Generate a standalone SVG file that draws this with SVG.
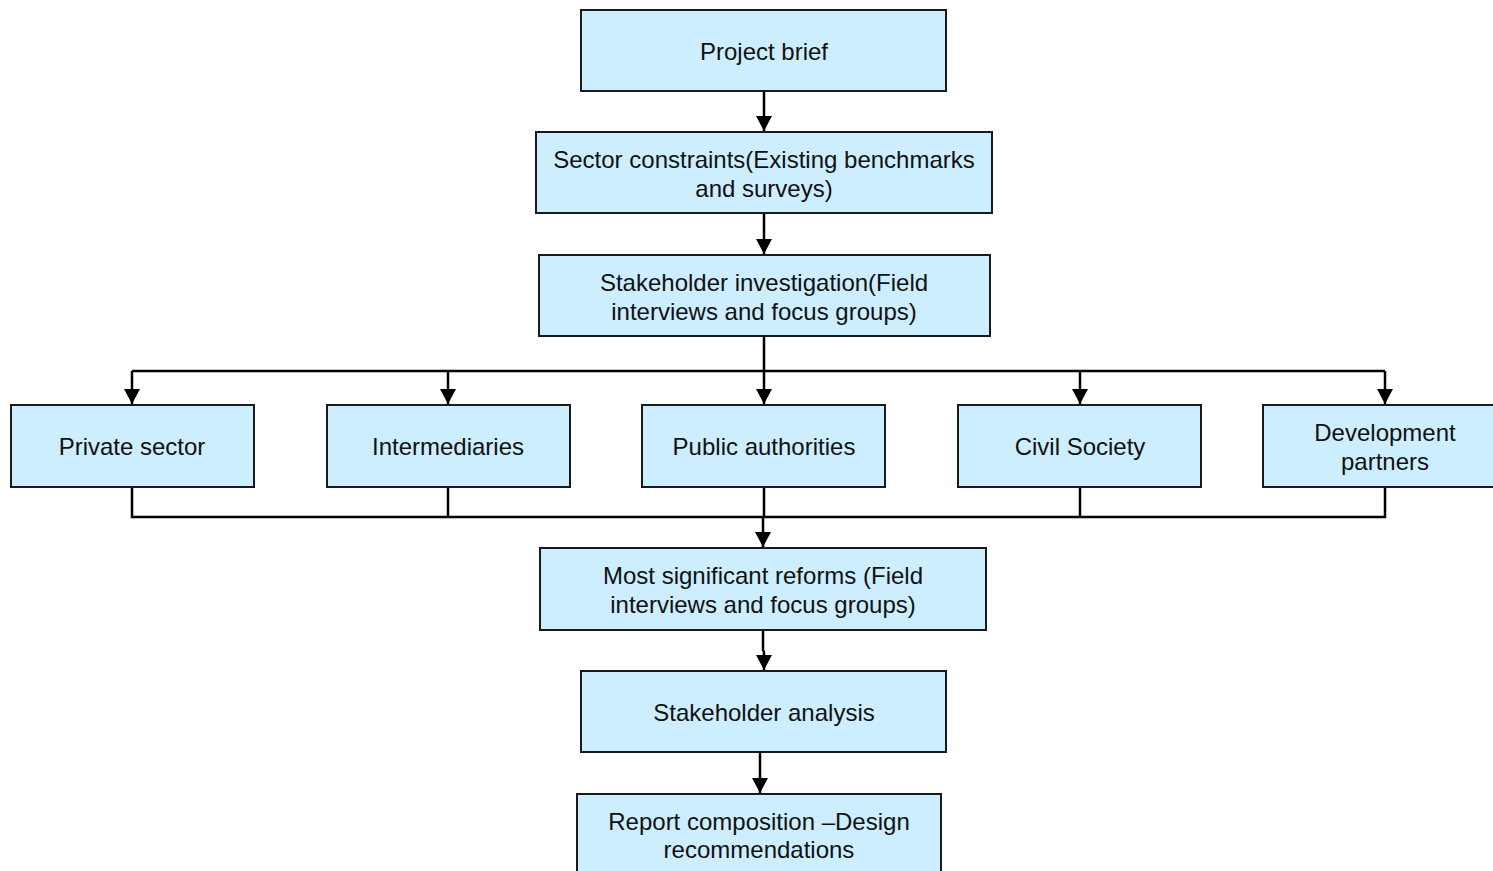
<svg xmlns="http://www.w3.org/2000/svg" width="1493" height="871" viewBox="0 0 1493 871">
  <style>
    .box { fill: #cceeff; stroke: #1a1a1a; stroke-width: 2; }
    .lbl { font-family: "Liberation Sans", Arial, sans-serif; font-size: 24px; fill: #111; text-anchor: middle; }
    .wire { fill: none; stroke: #000; stroke-width: 2.5; }
  </style>
  <defs>
    <marker id="arrow" viewBox="0 0 15 16" refX="15" refY="8" markerWidth="15" markerHeight="16" markerUnits="userSpaceOnUse" orient="auto">
      <path d="M0,0 L15,8 L0,16 Z" fill="#000"/>
    </marker>
  </defs>
  <rect width="1493" height="871" fill="#fff"/>

  <g id="connectors">
    <path class="wire" d="M764,91 V131" marker-end="url(#arrow)"/>
    <path class="wire" d="M764,213 V254" marker-end="url(#arrow)"/>
    <path class="wire" d="M764,336 V404" marker-end="url(#arrow)"/>
    <path class="wire" d="M132,371 H1385"/>
    <path class="wire" d="M132,371 V404" marker-end="url(#arrow)"/>
    <path class="wire" d="M448,371 V404" marker-end="url(#arrow)"/>
    <path class="wire" d="M1080,371 V404" marker-end="url(#arrow)"/>
    <path class="wire" d="M1385,371 V404" marker-end="url(#arrow)"/>
    <path class="wire" d="M132,487 V517 H1385 V487"/>
    <path class="wire" d="M448,487 V517"/>
    <path class="wire" d="M1080,487 V517"/>
    <path class="wire" d="M764,487 V517"/>
    <path class="wire" d="M763,517 V547" marker-end="url(#arrow)"/>
    <path class="wire" d="M763,630 V650 L764,652 V670" marker-end="url(#arrow)"/>
    <path class="wire" d="M760,752 V793" marker-end="url(#arrow)"/>
  </g>

  <g id="project-brief">
    <rect class="box" x="581" y="10" width="365" height="81"/>
    <text class="lbl" x="764" y="60">Project brief</text>
  </g>
  <g id="sector-constraints">
    <rect class="box" x="536" y="132" width="456" height="81"/>
    <text class="lbl" x="764" y="168">Sector constraints(Existing benchmarks</text>
    <text class="lbl" x="764" y="197">and surveys)</text>
  </g>
  <g id="stakeholder-investigation">
    <rect class="box" x="539" y="255" width="451" height="81"/>
    <text class="lbl" x="764" y="291">Stakeholder investigation(Field</text>
    <text class="lbl" x="764" y="320">interviews and focus groups)</text>
  </g>
  <g id="private-sector">
    <rect class="box" x="11" y="405" width="243" height="82"/>
    <text class="lbl" x="132" y="455">Private sector</text>
  </g>
  <g id="intermediaries">
    <rect class="box" x="327" y="405" width="243" height="82"/>
    <text class="lbl" x="448" y="455">Intermediaries</text>
  </g>
  <g id="public-authorities">
    <rect class="box" x="642" y="405" width="243" height="82"/>
    <text class="lbl" x="764" y="455">Public authorities</text>
  </g>
  <g id="civil-society">
    <rect class="box" x="958" y="405" width="243" height="82"/>
    <text class="lbl" x="1080" y="455">Civil Society</text>
  </g>
  <g id="development-partners">
    <rect class="box" x="1263" y="405" width="243" height="82"/>
    <text class="lbl" x="1385" y="441">Development</text>
    <text class="lbl" x="1385" y="470">partners</text>
  </g>
  <g id="most-significant-reforms">
    <rect class="box" x="540" y="548" width="446" height="82"/>
    <text class="lbl" x="763" y="584">Most significant reforms (Field</text>
    <text class="lbl" x="763" y="613">interviews and focus groups)</text>
  </g>
  <g id="stakeholder-analysis">
    <rect class="box" x="581" y="671" width="365" height="81"/>
    <text class="lbl" x="764" y="721">Stakeholder analysis</text>
  </g>
  <g id="report-composition">
    <rect class="box" x="577" y="794" width="364" height="90"/>
    <text class="lbl" x="759" y="830">Report composition –Design</text>
    <text class="lbl" x="759" y="858">recommendations</text>
  </g>
</svg>
